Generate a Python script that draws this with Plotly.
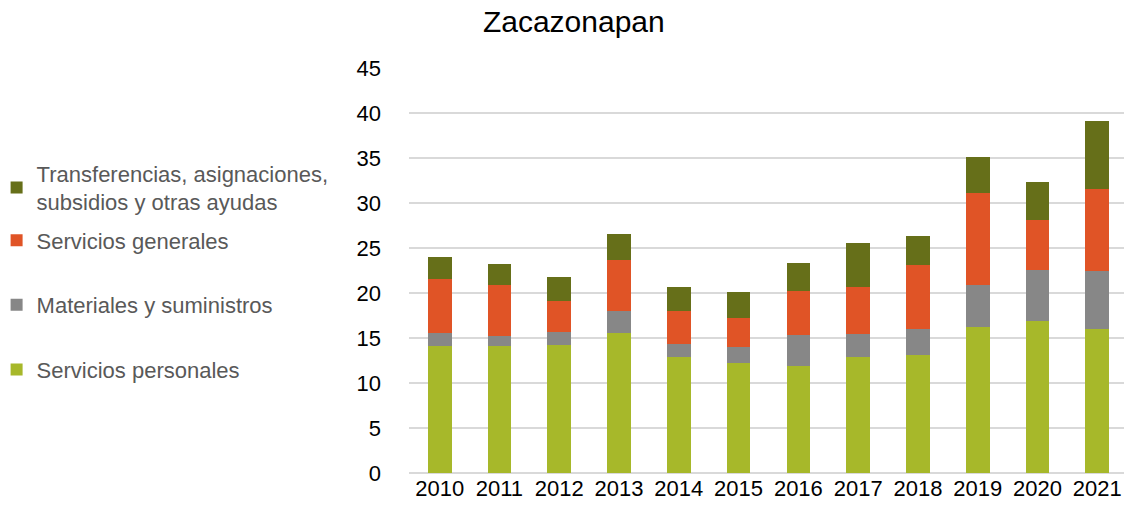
import plotly.graph_objects as go

# Datos (millones de pesos)
years = ["2010", "2011", "2012", "2013", "2014", "2015",
         "2016", "2017", "2018", "2019", "2020", "2021"]
servicios_personales = [14.07, 14.11, 14.22, 15.59, 12.89, 12.22,
                        11.89, 12.89, 13.11, 16.22, 16.85, 16.00]
materiales = [1.49, 1.11, 1.45, 2.41, 1.44, 1.78,
              3.48, 2.52, 2.85, 4.67, 5.74, 6.41]
servicios_generales = [5.96, 5.67, 3.44, 5.67, 3.63, 3.19,
                       4.82, 5.22, 7.19, 10.22, 5.56, 9.15]
transferencias = [2.52, 2.37, 2.70, 2.85, 2.74, 2.96,
                  3.14, 4.89, 3.15, 4.00, 4.18, 7.59]
y_ticks = [0, 5, 10, 15, 20, 25, 30, 35, 40, 45]

TEXT = "#595959"
# (nombre, valores, color, leyenda, posición vertical de la leyenda)
SERIES = [
    ("Servicios personales", servicios_personales, "#a7b82a", "legend", 0.255),
    ("Materiales y suministros", materiales, "#878787", "legend2", 0.415),
    ("Servicios generales", servicios_generales, "#e05426", "legend3", 0.574),
    ("Transferencias, asignaciones,<br>subsidios y otras ayudas", transferencias,
     "#666f19", "legend4", 0.704),
]

fig = go.Figure()
legends = {}
for name, vals, color, leg, ly in SERIES:
    fig.add_trace(go.Bar(
        x=years, y=vals, name=name, legend=leg,
        marker=dict(color=color, line=dict(width=0))))
    legends[leg] = dict(x=-0.56, xanchor="left", y=ly, yanchor="middle",
                        font=dict(size=22, color=TEXT), bgcolor="rgba(0,0,0,0)",
                        itemwidth=30, indentation=-12)

fig.update_layout(
    barmode="stack", bargap=0.603,
    width=1116, height=493,
    paper_bgcolor="white", plot_bgcolor="white",
    font=dict(family="Liberation Sans, Arial, sans-serif", size=22, color="#000000"),
    title=dict(text="Zacazonapan", x=0.507, xanchor="center", y=0.994, yanchor="top",
               font=dict(size=30, color="#000000")),
    margin=dict(l=393, r=0, t=60, b=28),
    showlegend=True,
    **legends,
)
fig.update_xaxes(range=[-0.513, 11.447], showgrid=False, showline=False, ticks="",
                 tickfont=dict(size=22, color="#000000"), ticklabelstandoff=0,
                 automargin=False)
fig.update_yaxes(range=[0, 45], tickvals=y_ticks, gridcolor="#d9d9d9", gridwidth=1.5,
                 zeroline=True, zerolinecolor="#d9d9d9", zerolinewidth=1.5,
                 tickfont=dict(size=22, color="#000000"), ticks="", ticklabelstandoff=27,
                 automargin=False)

fig.write_html("out.html")
